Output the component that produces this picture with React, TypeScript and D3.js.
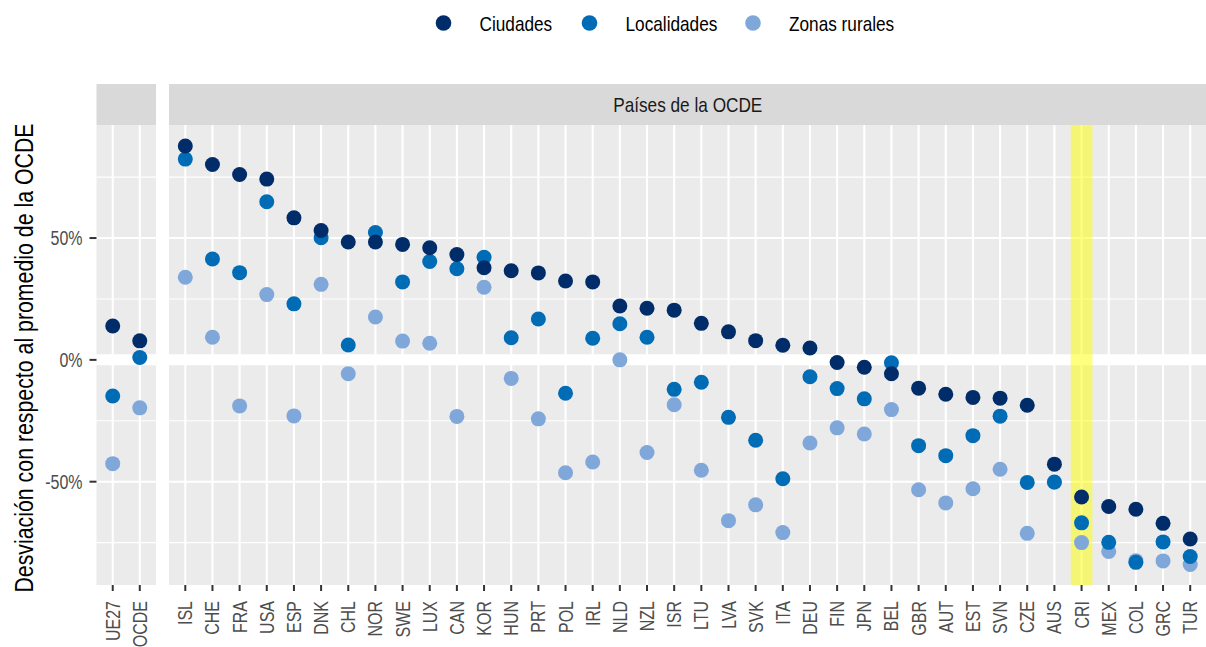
import React, { useRef, useEffect } from "react";
import * as d3 from "d3";

// Agregados (panel izquierdo)
const aggregates = ["UE27", "OCDE"];
const aggCiudades = [13.9, 7.8];
const aggLocalidades = [-14.8, 1.0];
const aggRurales = [-42.6, -19.7];

// Países de la OCDE (panel derecho)
const countries = [
  "ISL", "CHE", "FRA", "USA", "ESP", "DNK", "CHL", "NOR", "SWE", "LUX",
  "CAN", "KOR", "HUN", "PRT", "POL", "IRL", "NLD", "NZL", "ISR", "LTU",
  "LVA", "SVK", "ITA", "DEU", "FIN", "JPN", "BEL", "GBR", "AUT", "EST",
  "SVN", "CZE", "AUS", "CRI", "MEX", "COL", "GRC", "TUR",
];
const ciudades = [
  87.8, 80.2, 76.1, 74.2, 58.3, 53.1, 48.4, 48.4, 47.4, 46.0,
  43.2, 37.8, 36.6, 35.7, 32.4, 32.0, 22.1, 21.2, 20.4, 15.0,
  11.5, 7.9, 6.0, 4.9, -1.1, -3.0, -5.7, -11.6, -14.1, -15.4,
  -15.7, -18.6, -42.8, -56.3, -60.2, -61.3, -67.1, -73.5,
];
const localidades = [
  82.4, 41.4, 35.8, 64.9, 23.0, 50.1, 6.1, 52.3, 32.0, 40.4,
  37.4, 42.1, 9.1, 16.8, -13.7, 8.9, 14.8, 9.3, -12.1, -9.2,
  -23.6, -33.0, -48.8, -6.9, -11.8, -16.0, -1.2, -35.2, -39.3, -31.1,
  -23.1, -50.3, -50.1, -66.9, -74.9, -83.1, -74.7, -80.7,
];
const rurales = [
  33.9, 9.3, -18.9, 26.8, -23.0, 31.0, -5.7, 17.6, 7.7, 6.8,
  -23.2, 29.8, -7.6, -24.2, -46.3, -41.9, 0.0, -38.0, -18.4, -45.3,
  -66.0, -59.5, -70.9, -34.1, -27.9, -30.4, -20.4, -53.3, -58.7, -52.9,
  -44.9, -71.2, -50.2, -75.0, -78.6, -82.4, -82.5, -84.0,
];

const highlight = "CRI";
const seriesNames = ["Ciudades", "Localidades", "Zonas rurales"];
const seriesColors = ["#002d6a", "#006cb6", "#7fa7da"];
const majorTicks = [-50, 0, 50];
const minorTicks = [-75, -25, 25, 75];

const FONT = "'Liberation Sans', Arial, Helvetica, sans-serif";
// la fuente original es estrecha (tipo Arial Narrow)
const NARROW = 0.82;

export default function App() {
  const ref = useRef(null);
  const width = 1206;
  const height = 647;

  useEffect(() => {
    const svg = d3.select(ref.current);
    svg.selectChildren().remove();
    svg.style("font-family", FONT);

    const top = 125,
      bottom = 585;
    const stripTop = 84;

    const y = d3.scaleLinear().domain([-92.4, 96.4]).range([bottom, top]);

    const panels = [
      {
        cats: aggregates,
        series: [aggRurales, aggLocalidades, aggCiudades],
        x0: 96.5,
        x1: 156,
        title: "",
      },
      {
        cats: countries,
        series: [rurales, localidades, ciudades],
        x0: 169,
        x1: 1206.5,
        title: "Países de la OCDE",
      },
    ];
    // orden de dibujo: rurales, localidades, ciudades
    const drawColors = [seriesColors[2], seriesColors[1], seriesColors[0]];

    panels.forEach((p, pi) => {
      const x = d3.scalePoint().domain(p.cats).range([p.x0, p.x1]).padding(0.6);
      const g = svg.append("g");

      // fondo
      g.append("rect")
        .attr("x", p.x0)
        .attr("y", top)
        .attr("width", p.x1 - p.x0)
        .attr("height", bottom - top)
        .attr("fill", "#ebebeb");

      // strip
      g.append("rect")
        .attr("x", p.x0)
        .attr("y", stripTop)
        .attr("width", p.x1 - p.x0)
        .attr("height", top - stripTop)
        .attr("fill", "#d9d9d9");
      if (p.title) {
        g.append("text")
          .attr(
            "transform",
            `translate(${(p.x0 + p.x1) / 2},${(stripTop + top) / 2}) scale(${NARROW},1)`
          )
          .attr("dy", "0.36em")
          .attr("text-anchor", "middle")
          .attr("fill", "#1a1a1a")
          .style("font-size", "21px")
          .text(p.title);
      }

      // rejilla
      g.selectAll(".minor")
        .data(minorTicks)
        .join("line")
        .attr("x1", p.x0)
        .attr("x2", p.x1)
        .attr("y1", (d) => y(d))
        .attr("y2", (d) => y(d))
        .attr("stroke", "white")
        .attr("stroke-width", 1.1);
      g.selectAll(".major")
        .data(majorTicks)
        .join("line")
        .attr("x1", p.x0)
        .attr("x2", p.x1)
        .attr("y1", (d) => y(d))
        .attr("y2", (d) => y(d))
        .attr("stroke", "white")
        .attr("stroke-width", 2.1);
      g.selectAll(".vgrid")
        .data(p.cats)
        .join("line")
        .attr("x1", (d) => x(d))
        .attr("x2", (d) => x(d))
        .attr("y1", top)
        .attr("y2", bottom)
        .attr("stroke", "white")
        .attr("stroke-width", 2.1);

      // línea del cero
      g.append("line")
        .attr("x1", p.x0)
        .attr("x2", p.x1)
        .attr("y1", y(0))
        .attr("y2", y(0))
        .attr("stroke", "white")
        .attr("stroke-width", 11);

      // resaltado
      if (p.cats.includes(highlight)) {
        const bw = x.step() * 0.8;
        g.append("rect")
          .attr("x", x(highlight) - bw / 2)
          .attr("y", top)
          .attr("width", bw)
          .attr("height", bottom - top)
          .attr("fill", "#ffff00")
          .attr("opacity", 0.5);
      }

      // puntos
      p.series.forEach((vals, si) => {
        g.append("g")
          .selectAll("circle")
          .data(vals)
          .join("circle")
          .attr("cx", (_d, i) => x(p.cats[i]))
          .attr("cy", (d) => y(d))
          .attr("r", 7.5)
          .attr("fill", drawColors[si]);
      });

      // eje X
      g.selectAll(".xtick")
        .data(p.cats)
        .join("line")
        .attr("x1", (d) => x(d))
        .attr("x2", (d) => x(d))
        .attr("y1", bottom)
        .attr("y2", bottom + 6)
        .attr("stroke", "#333333")
        .attr("stroke-width", 2);
      g.selectAll(".xlab")
        .data(p.cats)
        .join("text")
        .attr(
          "transform",
          (d) => `translate(${x(d)},${bottom + 16}) rotate(-90) scale(${NARROW},1)`
        )
        .attr("dy", "0.36em")
        .attr("text-anchor", "end")
        .attr("fill", "#4d4d4d")
        .style("font-size", "19.5px")
        .text((d) => d);

      // eje Y (solo panel izquierdo)
      if (pi === 0) {
        g.selectAll(".ytick")
          .data(majorTicks)
          .join("line")
          .attr("x1", p.x0 - 7)
          .attr("x2", p.x0)
          .attr("y1", (d) => y(d))
          .attr("y2", (d) => y(d))
          .attr("stroke", "#333333")
          .attr("stroke-width", 2);
        g.selectAll(".ylab")
          .data(majorTicks)
          .join("text")
          .attr(
            "transform",
            (d) => `translate(${p.x0 - 14},${y(d)}) scale(${NARROW},1)`
          )
          .attr("dy", "0.38em")
          .attr("text-anchor", "end")
          .attr("fill", "#4d4d4d")
          .style("font-size", "19.5px")
          .text((d) => `${d}%`);
      }
    });

    // Rótulo eje Y
    svg
      .append("text")
      .attr(
        "transform",
        `translate(33,${(top + bottom) / 2 + 3}) rotate(-90) scale(${NARROW},1)`
      )
      .attr("text-anchor", "middle")
      .attr("fill", "black")
      .style("font-size", "26px")
      .text("Desviación con respecto al promedio de la OCDE");

    // Leyenda
    const legendX = [443.5, 589.5, 753];
    const legend = svg
      .append("g")
      .selectAll("g")
      .data(seriesNames)
      .join("g")
      .attr("transform", (_d, i) => `translate(${legendX[i]},23)`);
    legend
      .append("circle")
      .attr("r", 7.8)
      .attr("fill", (_d, i) => seriesColors[i]);
    legend
      .append("text")
      .attr("transform", `translate(36,0) scale(${NARROW},1)`)
      .attr("dy", "0.36em")
      .attr("fill", "black")
      .style("font-size", "21px")
      .text((d) => d);
  }, []);

  return (
    <svg
      ref={ref}
      width={width}
      height={height}
      style={{ position: "absolute", left: 0, top: 0, background: "white" }}
    />
  );
}
